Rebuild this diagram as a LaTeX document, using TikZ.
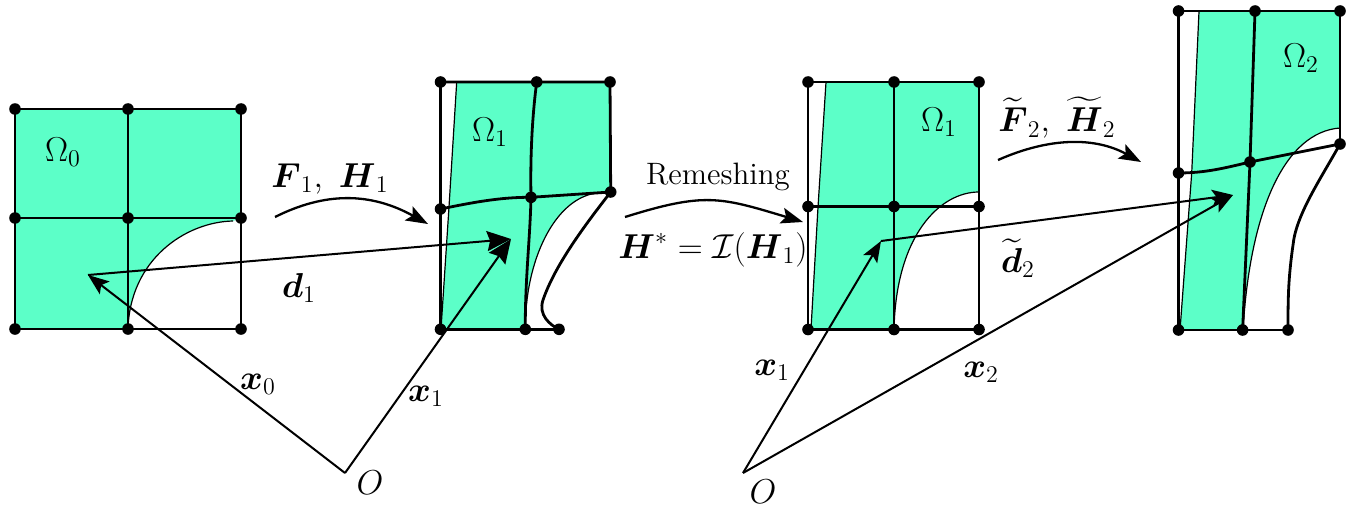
\documentclass[tikz,border=0pt]{standalone}
\usepackage{amsmath,amssymb}
\usetikzlibrary{arrows.meta}
\definecolor{mint}{RGB}{92,255,200}
\tikzset{
  x=0.5pt,y=-0.5pt,
  dot/.style={circle,fill=black,inner sep=0pt,minimum size=5.8pt},
  thickline/.style={line width=1.4pt,black},
  thinline/.style={line width=0.6pt,black},
  area/.style={fill=mint,draw=none},
  vec/.style={line width=1pt,-{Stealth[length=10.5pt,width=8pt,inset=2.2pt]}},
  bigvec/.style={line width=1pt,-{Stealth[length=12pt,width=10pt,inset=1.5pt]}},
  curvearrow/.style={line width=1.15pt,-{Stealth[length=11pt,width=8pt,inset=2.2pt]}},
  lab/.style={inner sep=0pt,font=\fontsize{17}{20}\selectfont},
  wordlab/.style={inner sep=0pt,font=\fontsize{14.4}{18}\selectfont},
}
\begin{document}
\begin{tikzpicture}
\useasboundingbox (0,0) rectangle (1352,508);
% ---------- panel 1
\path[area] (15,109) -- (241,109) -- (241,218) -- (233,221) .. controls (185,222) and (130,260) .. (128,329) -- (15,329) -- cycle;
\draw[thinline] (233,221) .. controls (185,222) and (130,260) .. (128,329);
\node[dot] (a11) at (15,109) {};
\node[dot] (a12) at (128,109) {};
\node[dot] (a13) at (241,109) {};
\node[dot] (a21) at (15,218) {};
\node[dot] (a22) at (128,218) {};
\node[dot] (a23) at (241,218) {};
\node[dot] (a31) at (15,329) {};
\node[dot] (a32) at (128,329) {};
\node[dot] (a33) at (241,329) {};
\draw[thickline] (a11.center)--(a13.center)--(a33.center)--(a31.center)--cycle;
\draw[thickline] (a12.center)--(a32.center) (a21.center)--(a23.center);
% ---------- panel 2
\path[area] (456.7,82) -- (610,82) -- (610,192) -- (597,193) .. controls (555,198) and (525,260) .. (525.3,329) -- (441,329) -- (449,207) -- cycle;
\draw[thinline] (456.7,82) -- (449,207) -- (441,329);
\draw[thinline] (597,193) .. controls (555,198) and (525,260) .. (525.3,329);
\node[dot] (b11) at (440.5,82) {};
\node[dot] (b12) at (536.7,82) {};
\node[dot] (b13) at (610,82) {};
\node[dot] (b21) at (440.5,209) {};
\node[dot] (b22) at (531,197.3) {};
\node[dot] (b23) at (610.7,192) {};
\node[dot] (b31) at (440.5,329.3) {};
\node[dot] (b32) at (525.3,329.3) {};
\node[dot] (b33) at (559,329.3) {};
\draw[thickline] (b31.center)--(b11.center)--(b13.center)--(b23.center);
\draw[thickline] (b31.center)--(b33.center);
\draw[thickline] (b12.center) .. controls (533,110) and (530,150) .. (b22.center) .. controls (530,240) and (525,280) .. (b32.center);
\draw[thickline] (b21.center) .. controls (470,203) and (500,197) .. (b22.center) -- (b23.center);
\draw[thickline] (b23.center) .. controls (585,225) and (555,265) .. (543,300) .. controls (538,315) and (550,325) .. (b33.center);
% ---------- panel 3
\path[area] (826,82) -- (979,82) -- (979,192) .. controls (940,192) and (896,235) .. (894,329.5) -- (811,329.5) -- (818,207) -- cycle;
\draw[thinline] (826,82) -- (818,207) -- (811,329);
\draw[thinline] (979,192) .. controls (940,192) and (896,235) .. (894,329.5);
\node[dot] (c11) at (808,82) {};
\node[dot] (c12) at (894,82) {};
\node[dot] (c13) at (979,82) {};
\node[dot] (c21) at (808,206.5) {};
\node[dot] (c22) at (894,206.5) {};
\node[dot] (c23) at (979,206.5) {};
\node[dot] (c31) at (808,329.5) {};
\node[dot] (c32) at (894,329.5) {};
\node[dot] (c33) at (979,329.5) {};
\draw[thickline] (c11.center)--(c13.center)--(c33.center)--(c31.center)--cycle;
\draw[thickline] (c12.center)--(c32.center) (c21.center)--(c23.center);
% ---------- panel 4
\path[area] (1199,11) -- (1340,11) -- (1340,128) .. controls (1285,132) and (1250,210) .. (1243,330) -- (1180,330) -- (1191.7,173) -- cycle;
\draw[thinline] (1199,11) -- (1191.7,173) -- (1180,330);
\draw[thinline] (1340,128) .. controls (1285,132) and (1250,210) .. (1243,330);
\node[dot] (d11) at (1178.5,11) {};
\node[dot] (d12) at (1255,11) {};
\node[dot] (d13) at (1340,11) {};
\node[dot] (d21) at (1178.5,173) {};
\node[dot] (d22) at (1250,162) {};
\node[dot] (d23) at (1340,144) {};
\node[dot] (d31) at (1178.5,330) {};
\node[dot] (d32) at (1242.6,330) {};
\node[dot] (d33) at (1288,330) {};
\draw[thickline] (d31.center)--(d11.center)--(d13.center)--(d23.center);
\draw[thickline] (d31.center)--(d33.center);
\draw[thickline] (d12.center)--(d22.center)--(d32.center);
\draw[thickline] (d21.center) .. controls (1205,173) and (1225,168) .. (d22.center) -- (d23.center);
\draw[thickline] (d23.center) .. controls (1320,180) and (1296,215) .. (1293,245) .. controls (1288,280) and (1288,300) .. (d33.center);
% ---------- vectors
\coordinate (O1) at (345,473);
\coordinate (O2) at (743,473);
\coordinate (p0) at (88,275);
\coordinate (p1) at (511,239);
\coordinate (q1) at (881,241);
\coordinate (q2) at (1233,195);
\draw[vec] (O1) -- (p0);
\draw[bigvec] (O1) -- (p1);
\draw[bigvec] (p0) -- (p1);
\draw[vec] (O2) -- (q1);
\draw[vec] (O2) -- (q2);
\draw[vec] (q1) -- (q2);
% ---------- curved arrows
\coordinate (f1s) at (275,217);
\coordinate (f1e) at (428,224);
\coordinate (r1s) at (625,217);
\coordinate (r1e) at (803,222);
\coordinate (f2s) at (998,160);
\coordinate (f2e) at (1141,162);
\draw[curvearrow] (f1s) .. controls (325,192) and (370,192) .. (f1e);
\draw[curvearrow] (r1s) .. controls (705,192) and (720,197) .. (r1e);
\draw[curvearrow] (f2s) .. controls (1050,137) and (1095,137) .. (f2e);
% ---------- labels
\node[lab] (l0) at (63,152) {$\Omega_0$};
\node[lab] (l1) at (330,179) {$\boldsymbol{F}_1,\ \boldsymbol{H}_1$};
\node[lab] (l2) at (299,288) {$\boldsymbol{d}_1$};
\node[lab] (l3) at (490,132) {$\Omega_1$};
\node[wordlab] (l4) at (718,177) {\scalebox{1.075}{Remeshing}};
\node[lab] (l5) at (713,250) {$\boldsymbol{H}^*=\mathcal{I}(\boldsymbol{H}_1)$};
\node[lab] (l6) at (939,122) {$\Omega_1$};
\node[lab] (l7) at (1057,118) {$\widetilde{\boldsymbol{F}}_2,\ \widetilde{\boldsymbol{H}}_2$};
\node[lab] (l8) at (1018,258) {$\widetilde{\boldsymbol{d}}_2$};
\node[lab] (l9) at (1301,58) {$\Omega_2$};
\node[lab] (l10) at (258,384) {$\boldsymbol{x}_0$};
\node[lab] (l11) at (426,396) {$\boldsymbol{x}_1$};
\node[lab] (l12) at (772,370) {$\boldsymbol{x}_1$};
\node[lab] (l13) at (981,372) {$\boldsymbol{x}_2$};
\node[lab] (l14) at (370,483) {$O$};
\node[lab] (l15) at (763,492) {$O$};
\end{tikzpicture}
\end{document}
